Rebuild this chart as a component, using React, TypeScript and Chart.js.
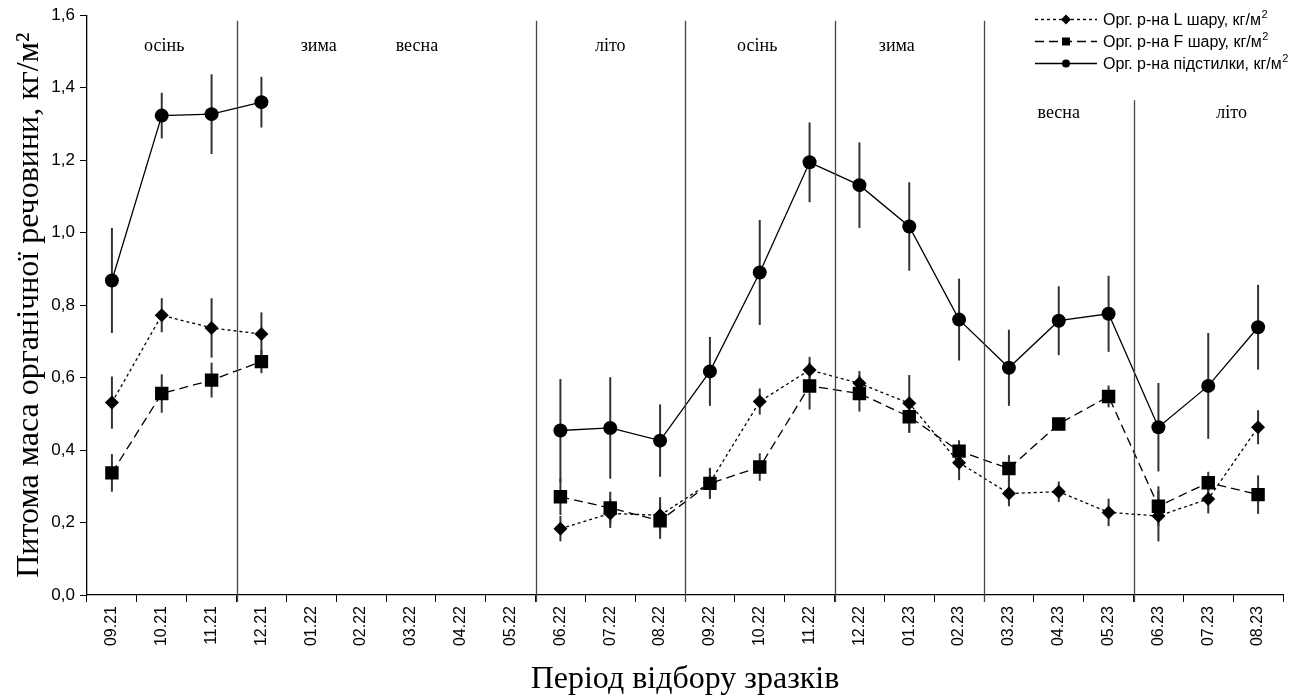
import { useEffect, useRef } from "react";
import { Chart, registerables } from "chart.js";

Chart.register(...registerables);

// Sampling months
const months = [
  "09.21", "10.21", "11.21", "12.21", "01.22", "02.22", "03.22", "04.22",
  "05.22", "06.22", "07.22", "08.22", "09.22", "10.22", "11.22", "12.22",
  "01.23", "02.23", "03.23", "04.23", "05.23", "06.23", "07.23", "08.23",
];

// Organic matter of the whole litter, kg/m² (mean and ± error)
const litter = [
  0.868, 1.323, 1.327, 1.36, null, null, null, null, null, 0.454, 0.461, 0.426,
  0.617, 0.89, 1.194, 1.131, 1.017, 0.76, 0.627, 0.757, 0.776, 0.463, 0.577, 0.739,
];
const litterErr = [
  0.145, 0.063, 0.11, 0.07, 0, 0, 0, 0, 0, 0.142, 0.14, 0.1,
  0.095, 0.145, 0.11, 0.118, 0.122, 0.113, 0.105, 0.095, 0.105, 0.122, 0.146, 0.117,
];

// Organic matter of the L layer, kg/m²
const layerL = [
  0.531, 0.772, 0.737, 0.72, null, null, null, null, null, 0.183, 0.225, 0.22,
  0.31, 0.534, 0.621, 0.584, 0.529, 0.365, 0.28, 0.285, 0.228, 0.218, 0.265, 0.463,
];
const layerLErr = [
  0.072, 0.047, 0.082, 0.06, 0, 0, 0, 0, 0, 0.035, 0.04, 0.05,
  0.04, 0.036, 0.036, 0.034, 0.078, 0.048, 0.035, 0.028, 0.038, 0.07, 0.04, 0.047,
];

// Organic matter of the F layer, kg/m²
const layerF = [
  0.337, 0.556, 0.593, 0.644, null, null, null, null, null, 0.271, 0.24, 0.205,
  0.308, 0.353, 0.577, 0.556, 0.492, 0.397, 0.349, 0.472, 0.548, 0.245, 0.31, 0.277,
];
const layerFErr = [
  0.052, 0.053, 0.048, 0.032, 0, 0, 0, 0, 0, 0.05, 0.045, 0.05,
  0.043, 0.038, 0.065, 0.05, 0.045, 0.03, 0.037, 0.018, 0.03, 0.055, 0.03, 0.053,
];

const yTicks = [0, 0.2, 0.4, 0.6, 0.8, 1.0, 1.2, 1.4, 1.6];

// Season boundaries: index of the first month after the boundary, and line top (y units)
const boundaryIndex = [3, 9, 12, 15, 18, 21];
const boundaryTop = [1.585, 1.585, 1.585, 1.585, 1.585, 1.365];

// Season captions: name, position in month units, height in y units
const seasonNames = ["осінь", "зима", "весна", "літо", "осінь", "зима", "весна", "літо"];
const seasonPos = [1.05, 4.15, 6.12, 10.0, 12.95, 15.75, 19.0, 22.47];
const seasonY = [1.515, 1.515, 1.515, 1.515, 1.515, 1.515, 1.33, 1.33];

const SANS = "'Liberation Sans', Arial, sans-serif";
const SERIF = "'Liberation Serif', 'Times New Roman', serif";

const errorBars = {
  id: "errorBars",
  beforeDatasetsDraw(chart: any) {
    const { ctx, scales } = chart;
    const x = scales.x;
    const y = scales.y;
    ctx.save();
    ctx.strokeStyle = "#333";
    ctx.lineWidth = 2;
    chart.data.datasets.forEach((ds: any) => {
      ds.data.forEach((v: number | null, i: number) => {
        if (v == null) return;
        const e = ds.errors[i];
        const px = x.getPixelForValue(i);
        ctx.beginPath();
        ctx.moveTo(px, y.getPixelForValue(v - e));
        ctx.lineTo(px, y.getPixelForValue(v + e));
        ctx.stroke();
      });
    });
    ctx.restore();
  },
};

const seasons = {
  id: "seasons",
  afterDraw(chart: any) {
    const { ctx, scales, chartArea } = chart;
    const x = scales.x;
    const y = scales.y;
    const p0 = x.getPixelForValue(0);
    const step = x.getPixelForValue(1) - p0;
    ctx.save();
    ctx.strokeStyle = "#444";
    ctx.lineWidth = 1.3;
    boundaryIndex.forEach((idx, k) => {
      const px = Math.round(p0 + (idx - 0.5) * step) + 0.5;
      ctx.beginPath();
      ctx.moveTo(px, y.getPixelForValue(boundaryTop[k]));
      ctx.lineTo(px, chartArea.bottom + 7);
      ctx.stroke();
    });
    ctx.fillStyle = "#000";
    ctx.font = `18px ${SERIF}`;
    ctx.textAlign = "center";
    ctx.textBaseline = "middle";
    seasonNames.forEach((name, k) => {
      ctx.fillText(name, p0 + seasonPos[k] * step, y.getPixelForValue(seasonY[k]));
    });
    ctx.restore();
  },
};

const customLegend = {
  id: "customLegend",
  afterDraw(chart: any) {
    const { ctx } = chart;
    const x0 = 1035;
    const x1 = 1097;
    const xm = 1066;
    const rows = [19.5, 41.5, 63.5];
    ctx.save();
    chart.data.datasets.forEach((ds: any, i: number) => {
      const yy = rows[i];
      ctx.strokeStyle = "#000";
      ctx.lineWidth = 1.4;
      ctx.setLineDash(ds.borderDash || []);
      ctx.beginPath();
      ctx.moveTo(x0, yy);
      ctx.lineTo(x1, yy);
      ctx.stroke();
      ctx.setLineDash([]);
      ctx.fillStyle = "#000";
      ctx.beginPath();
      if (ds.pointStyle === "circle") {
        ctx.arc(xm, yy, 4, 0, Math.PI * 2);
      } else if (ds.pointStyle === "rect") {
        ctx.rect(xm - 4, yy - 4, 8, 8);
      } else {
        ctx.moveTo(xm - 5, yy);
        ctx.lineTo(xm, yy - 5);
        ctx.lineTo(xm + 5, yy);
        ctx.lineTo(xm, yy + 5);
        ctx.closePath();
      }
      ctx.fill();
      const label: string = ds.label;
      const base = label.replace(/²$/, "");
      ctx.font = `16px ${SANS}`;
      ctx.textAlign = "left";
      ctx.textBaseline = "middle";
      ctx.fillText(base, 1103, yy + 1);
      const w = ctx.measureText(base).width;
      ctx.font = `11px ${SANS}`;
      ctx.fillText("2", 1103 + w + 0.5, yy - 5);
    });
    ctx.restore();
  },
};

export default function App() {
  const canvasRef = useRef<HTMLCanvasElement | null>(null);

  useEffect(() => {
    document.body.style.margin = "0";
    const canvas = canvasRef.current;
    if (!canvas) return;
    const chart = new Chart(canvas, {
      type: "line",
      data: {
        labels: months,
        datasets: [
          {
            label: "Орг. р-на L шару, кг/м²",
            data: layerL,
            errors: layerLErr,
            borderColor: "#000",
            backgroundColor: "#000",
            borderWidth: 1.3,
            borderDash: [3, 3],
            pointStyle: "rectRot",
            pointRadius: 7,
            pointBorderWidth: 0,
            spanGaps: false,
          } as any,
          {
            label: "Орг. р-на F шару, кг/м²",
            data: layerF,
            errors: layerFErr,
            borderColor: "#000",
            backgroundColor: "#000",
            borderWidth: 1.3,
            borderDash: [9, 5],
            pointStyle: "rect",
            pointRadius: 9.5,
            pointBorderWidth: 0,
            spanGaps: false,
          } as any,
          {
            label: "Орг. р-на підстилки, кг/м²",
            data: litter,
            errors: litterErr,
            borderColor: "#000",
            backgroundColor: "#000",
            borderWidth: 1.3,
            pointStyle: "circle",
            pointRadius: 7,
            pointBorderWidth: 0,
            spanGaps: false,
          } as any,
        ],
      },
      options: {
        animation: false,
        responsive: false,
        events: [],
        layout: { padding: { top: 14, right: 21, left: 0, bottom: 0 } },
        plugins: {
          legend: { display: false },
          tooltip: { enabled: false },
        },
        scales: {
          x: {
            type: "category",
            offset: true,
            grid: {
              display: true,
              offset: true,
              drawOnChartArea: false,
              tickLength: 7,
              color: "#000",
              lineWidth: 1,
            },
            border: { display: true, color: "#000", width: 1.3 },
            ticks: {
              autoSkip: false,
              maxRotation: 90,
              minRotation: 90,
              padding: 4,
              color: "#000",
              font: { family: SANS, size: 16 },
            },
            title: {
              display: true,
              text: "Період відбору зразків",
              color: "#000",
              font: { family: SERIF, size: 32 },
              padding: { top: 0, bottom: 0 },
            },
            afterFit(scale: any) {
              scale.height = 104;
            },
          },
          y: {
            min: 0,
            max: 1.6,
            afterBuildTicks(scale: any) {
              scale.ticks = yTicks.map((v) => ({ value: v }));
            },
            grid: {
              display: true,
              drawOnChartArea: false,
              tickLength: 7,
              color: "#000",
              lineWidth: 1,
            },
            border: { display: true, color: "#000", width: 1.3 },
            ticks: {
              padding: 5,
              color: "#000",
              font: { family: SANS, size: 17 },
              callback: (v: any) => Number(v).toFixed(1).replace(".", ","),
            },
            title: {
              display: true,
              text: "Питома маса органічної речовини, кг/м²",
              color: "#000",
              font: { family: SERIF, size: 32 },
              padding: { top: 10, bottom: 0 },
            },
            afterFit(scale: any) {
              scale.width = 87;
            },
          },
        },
      } as any,
      plugins: [errorBars, seasons, customLegend],
    });
    return () => chart.destroy();
  }, []);

  return (
    <div style={{ position: "absolute", left: 0, top: 0, width: 1304, height: 699 }}>
      <canvas ref={canvasRef} width={1304} height={699} style={{ display: "block" }} />
    </div>
  );
}
